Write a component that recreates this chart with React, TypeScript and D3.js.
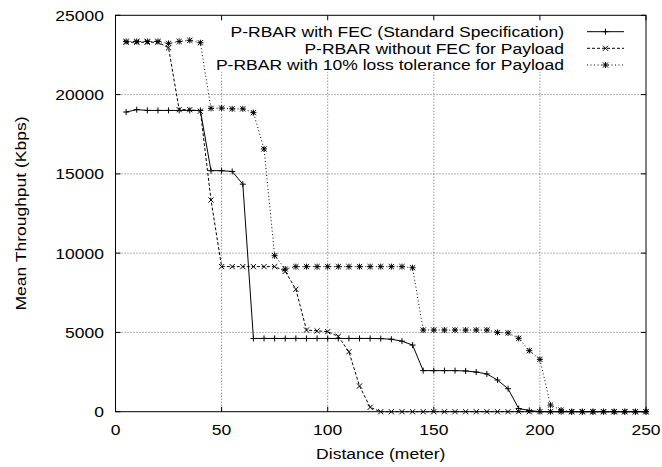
import React from "react";
import * as d3 from "d3";

const distances = [5,10,15,20,25,30,35,40,45,50,55,60,65,70,75,80,85,90,95,100,105,110,115,120,125,130,135,140,145,150,155,160,165,170,175,180,185,190,195,200,205,210,215,220,225,230,235,240,245,250];

const fecStd = [18900,19050,19000,19000,19000,19000,19000,19000,15200,15200,15150,14350,4620,4620,4620,4620,4620,4620,4620,4620,4620,4620,4620,4620,4610,4570,4450,4200,2590,2590,2590,2590,2570,2500,2380,2000,1450,200,80,0,0,0,0,0,0,0,0,0,0,0];

const noFec = [23300,23300,23300,23300,22950,19050,19050,18950,13350,9150,9150,9150,9150,9150,9150,8850,7720,5150,5100,5050,4750,3780,1620,280,0,0,0,0,0,0,0,0,0,0,0,0,0,0,0,0,0,0,0,0,0,0,0,0,0,0];

const loss10 = [23350,23350,23350,23350,23230,23350,23420,23270,19130,19150,19100,19100,18860,16570,9840,9000,9150,9150,9150,9150,9150,9150,9150,9150,9150,9150,9150,9080,5150,5150,5150,5150,5150,5150,5150,5000,4970,4630,3850,3300,420,100,0,0,0,0,0,0,0,0];

const seriesNames = [
  "P-RBAR with FEC (Standard Specification)",
  "P-RBAR without FEC for Payload",
  "P-RBAR with 10% loss tolerance for Payload",
];

const xTicks = [0, 50, 100, 150, 200, 250];
const yTicks = [0, 5000, 10000, 15000, 20000, 25000];

const FONT = "'Liberation Sans', Arial, Helvetica, sans-serif";
const FS = 15.5;
const SX = 1.13;

function Marker({ type, x, y }: { type: string; x: number; y: number }) {
  const s = 3;
  const plus = `M${x - s},${y}H${x + s}M${x},${y - s}V${y + s}`;
  const t = 2.6;
  const cross = `M${x - t},${y - t}L${x + t},${y + t}M${x - t},${y + t}L${x + t},${y - t}`;
  let d = plus;
  if (type === "x") d = cross;
  if (type === "*") d = plus + cross;
  return <path d={d} stroke="#000" strokeWidth={1} fill="none" />;
}

function T({ x, y, anchor, children, rotate }: any) {
  const tr = rotate
    ? `translate(${x},${y}) rotate(-90) scale(${SX},1)`
    : `translate(${x},${y}) scale(${SX},1)`;
  return (
    <text transform={tr} textAnchor={anchor} fontFamily={FONT} fontSize={FS} fill="#000">
      {children}
    </text>
  );
}

export default function App() {
  const W = 662, H = 467;
  const x = d3.scaleLinear().domain([0, 250]).range([115.5, 646]);
  const y = d3.scaleLinear().domain([0, 25000]).range([411.7, 15.3]);
  const [x0, x1] = x.range();
  const [y0, y1] = y.range();

  const series = [
    { vals: fecStd, marker: "+", dash: undefined as string | undefined },
    { vals: noFec, marker: "x", dash: "3,2" },
    { vals: loss10, marker: "*", dash: "1,2.5" },
  ];

  const line = d3
    .line<[number, number]>()
    .x((d) => x(d[0]))
    .y((d) => y(d[1]));

  const legendRows = [31.7, 48.3, 65];

  return (
    <svg width={W} height={H} style={{ position: "absolute", left: 0, top: 0, background: "#fff" }}>
      <rect x={0} y={0} width={W} height={H} fill="#fff" />
      {/* grid */}
      {xTicks.slice(1, -1).map((t) => (
        <line key={"gx" + t} x1={x(t)} x2={x(t)} y1={y0} y2={y1} stroke="#444" strokeWidth={0.8} strokeDasharray="1,2" />
      ))}
      {yTicks.slice(1, -1).map((t) => (
        <line key={"gy" + t} x1={x0} x2={x1} y1={y(t)} y2={y(t)} stroke="#444" strokeWidth={0.8} strokeDasharray="1,2" />
      ))}
      {/* legend background */}
      <rect x={207} y={y1} width={x1 - 207} height={72 - y1} fill="#fff" />
      {/* ticks */}
      {xTicks.map((t) => (
        <g key={"tx" + t}>
          <line x1={x(t)} x2={x(t)} y1={y0} y2={y0 - 5} stroke="#000" />
          <line x1={x(t)} x2={x(t)} y1={y1} y2={y1 + 5} stroke="#000" />
          <T x={x(t)} y={435} anchor="middle">{String(t)}</T>
        </g>
      ))}
      {yTicks.map((t) => (
        <g key={"ty" + t}>
          <line x1={x0} x2={x0 + 5} y1={y(t)} y2={y(t)} stroke="#000" />
          <line x1={x1} x2={x1 - 5} y1={y(t)} y2={y(t)} stroke="#000" />
          <T x={104} y={y(t) + 5.4} anchor="end">{String(t)}</T>
        </g>
      ))}
      {/* border */}
      <rect x={x0} y={y1} width={x1 - x0} height={y0 - y1} fill="none" stroke="#000" strokeWidth={1} />
      {/* series */}
      {series.map((s, i) => {
        const pts: [number, number][] = distances.map((d, j) => [d, s.vals[j]]);
        return (
          <g key={"s" + i}>
            <path d={line(pts) || ""} fill="none" stroke="#000" strokeWidth={1} strokeDasharray={s.dash} />
            {pts.map((p, j) => (
              <Marker key={j} type={s.marker} x={x(p[0])} y={y(p[1])} />
            ))}
          </g>
        );
      })}
      {/* legend */}
      {series.map((s, i) => (
        <g key={"l" + i}>
          <T x={564} y={legendRows[i] + 5.4} anchor="end">{seriesNames[i]}</T>
          <line x1={587} x2={624} y1={legendRows[i]} y2={legendRows[i]} stroke="#000" strokeDasharray={s.dash} />
          <Marker type={s.marker} x={605.5} y={legendRows[i]} />
        </g>
      ))}
      {/* axis titles */}
      <T x={(x0 + x1) / 2} y={459} anchor="middle">Distance (meter)</T>
      <T x={26} y={(y0 + y1) / 2} anchor="middle" rotate>Mean Throughput (Kbps)</T>
    </svg>
  );
}
